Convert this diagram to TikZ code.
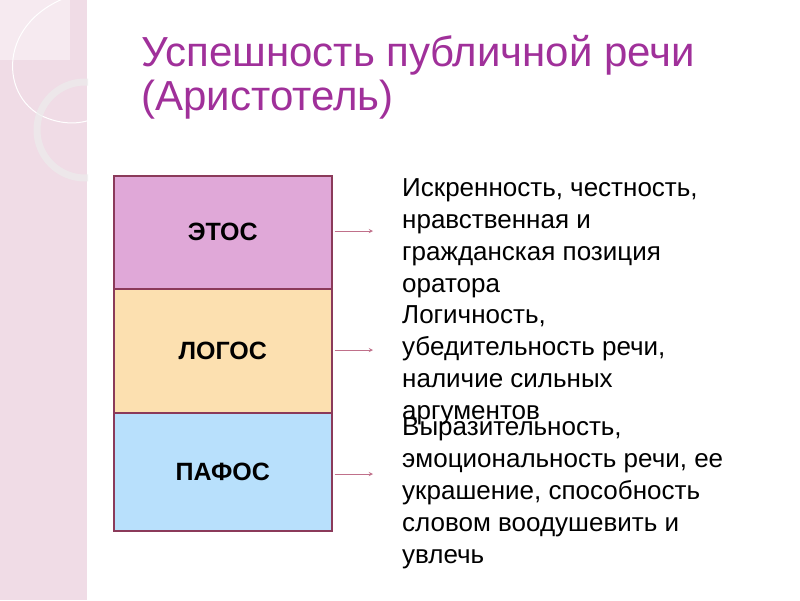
\documentclass[tikz,border=0pt]{standalone}
\usepackage{fontspec}
\setmainfont{Liberation Sans}
\begin{document}
\begin{tikzpicture}[x=1pt,y=-1pt,
  layer/.style={draw=boxline,line width=1.5pt,minimum width=218pt,anchor=north west,inner sep=0pt,font=\fontsize{25}{30}\selectfont\bfseries},
  desc/.style={anchor=north west,align=left,inner sep=0pt,font=\fontsize{26}{32}\selectfont},
  arr/.style={->,draw=arrcol,line width=0.9pt,>=stealth}]
\definecolor{boxline}{HTML}{8B3A5A}
\definecolor{arrcol}{HTML}{C0708A}
\definecolor{titlecol}{HTML}{A0309A}
\definecolor{strip}{HTML}{F0DCE6}
\definecolor{ethos}{HTML}{E0A8D8}
\definecolor{logos}{HTML}{FCE0B0}
\definecolor{pathos}{HTML}{B8E0FC}
\useasboundingbox (0,0) rectangle (800,600);
\fill[white] (0,0) rectangle (800,600);
\fill[strip] (0,0) rectangle (88,600);
\fill[strip!60!white] (0,0) rectangle (70,60);
\draw[white,line width=1.2pt] (88,0) -- (88,600);
\begin{scope}
\clip (0,0) rectangle (88,600);
\draw[white,line width=1pt] (95,-10) .. controls (0,5) and (-5,90) .. (40,115) .. controls (60,125) and (80,125) .. (95,118);
\draw[white!85!gray,line width=7pt,opacity=0.7] (85,130) circle (48);
\end{scope}
\node[anchor=west,text=titlecol,font=\fontsize{42}{48}\selectfont] (t1) at (138,55) {Успешность публичной речи};
\node[anchor=west,text=titlecol,font=\fontsize{42}{48}\selectfont] (t2) at (138,100) {(Аристотель)};
\node[layer,fill=ethos,minimum height=113pt] (e) at (113,175) {ЭТОС};
\node[layer,fill=logos,minimum height=124pt] (l) at (113,288) {ЛОГОС};
\node[layer,fill=pathos,minimum height=118pt] (p) at (113,412) {ПАФОС};
\coordinate (ae) at (373,231);
\coordinate (al) at (373,350);
\coordinate (ap) at (373,474);
\draw[arr] (e.east |- ae) ++(2,0) -- (ae);
\draw[arr] (l.east |- al) ++(2,0) -- (al);
\draw[arr] (p.east |- ap) ++(2,0) -- (ap);
\node[desc] (d1) at (402,178) {Искренность, честность,\\нравственная и\\гражданская позиция\\оратора};
\node[desc] (d2) at (402,305) {Логичность,\\убедительность речи,\\наличие сильных\\аргументов};
\node[desc] (d3) at (402,417) {Выразительность,\\эмоциональность речи, ее\\украшение, способность\\словом воодушевить и\\увлечь};
\end{tikzpicture}
\end{document}
